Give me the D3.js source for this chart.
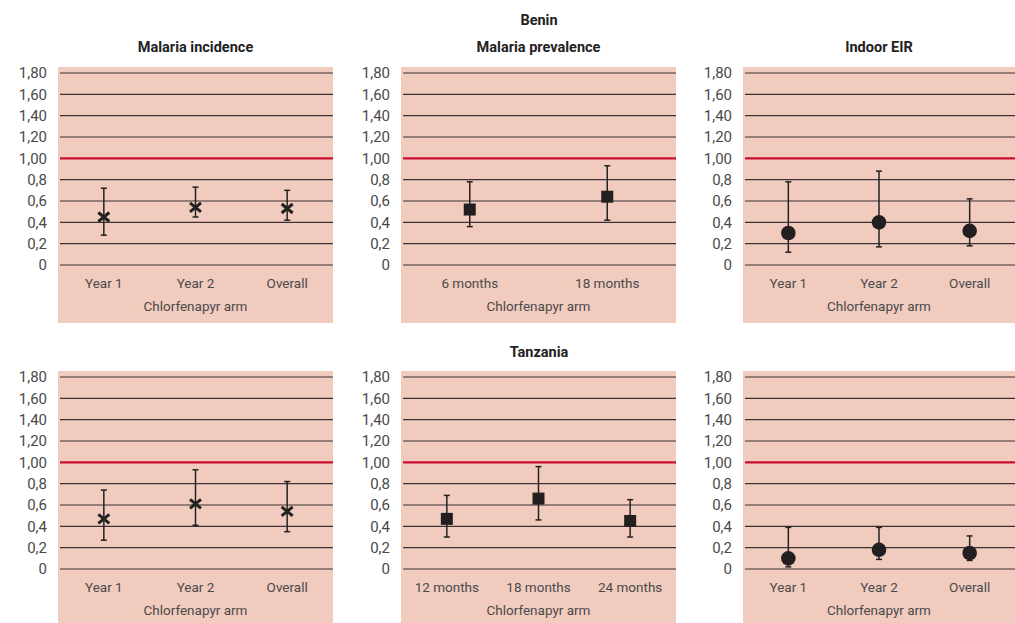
<!DOCTYPE html>
<html>
<head>
<meta charset="utf-8">
<script src="https://cdn.jsdelivr.net/npm/d3@7"></script>
<style>
  body { margin: 0; background: #fff; }
  svg { display: block; }
  text { font-family: "Roboto", "Liberation Sans", sans-serif; }
</style>
</head>
<body>
<svg id="chart" width="1015" height="623"></svg>
<script>
// tick values and their printed labels (the source mixes 1 and 2 decimals)
const tickValues = [0, 0.2, 0.4, 0.6, 0.8, 1.0, 1.2, 1.4, 1.6, 1.8]
const tickLabels = ['0', '0,2', '0,4', '0,6', '0,8', '1,00', '1,20', '1,40', '1,60', '1,80']

const yearCats = ['Year 1', 'Year 2', 'Overall']
const beninPrevCats = ['6 months', '18 months']
const tanzPrevCats = ['12 months', '18 months', '24 months']

// [estimate, lower, upper]
const beninIncidence = [[0.45, 0.28, 0.72], [0.54, 0.45, 0.73], [0.53, 0.42, 0.70]]
const beninPrevalence = [[0.52, 0.36, 0.78], [0.64, 0.42, 0.93]]
const beninEIR = [[0.30, 0.12, 0.78], [0.40, 0.17, 0.88], [0.32, 0.18, 0.62]]
const tanzIncidence = [[0.47, 0.27, 0.74], [0.61, 0.41, 0.93], [0.54, 0.35, 0.82]]
const tanzPrevalence = [[0.47, 0.30, 0.69], [0.66, 0.46, 0.96], [0.45, 0.30, 0.65]]
const tanzEIR = [[0.10, 0.02, 0.39], [0.18, 0.09, 0.39], [0.15, 0.08, 0.31]]

const svg = d3.select('#chart')

const colX = [58, 401, 743]
const colW = [275, 275, 272]
const rowY = [67, 371]

const panels = [
  { col: 0, row: 0, title: 'Malaria incidence', cats: yearCats, data: beninIncidence, marker: 'cross' },
  { col: 1, row: 0, title: 'Malaria prevalence', cats: beninPrevCats, data: beninPrevalence, marker: 'square' },
  { col: 2, row: 0, title: 'Indoor EIR', cats: yearCats, data: beninEIR, marker: 'circle' },
  { col: 0, row: 1, title: null, cats: yearCats, data: tanzIncidence, marker: 'cross' },
  { col: 1, row: 1, title: null, cats: tanzPrevCats, data: tanzPrevalence, marker: 'square' },
  { col: 2, row: 1, title: null, cats: yearCats, data: tanzEIR, marker: 'circle' }
]

// country headings
svg.append('text').attr('x', 539).attr('y', 25).attr('text-anchor', 'middle')
  .attr('font-size', 14.5).attr('font-weight', 'bold').attr('fill', '#222').text('Benin')
svg.append('text').attr('x', 539).attr('y', 357).attr('text-anchor', 'middle')
  .attr('font-size', 14.5).attr('font-weight', 'bold').attr('fill', '#222').text('Tanzania')

panels.forEach((p) => {
  const x0 = colX[p.col]
  const w = colW[p.col]
  const top = rowY[p.row]
  const g = svg.append('g').attr('transform', `translate(${x0},${top})`)

  const y = d3.scaleLinear().domain([0, 1.8]).range([198, 6])
  const x = d3.scalePoint().domain(p.cats).range([0, w]).padding(0.5)

  g.append('rect').attr('x', 0).attr('y', 0).attr('width', w).attr('height', 256)
    .attr('fill', '#f2cbbf')

  if (p.title) {
    g.append('text').attr('x', w / 2).attr('y', -15).attr('text-anchor', 'middle')
      .attr('font-size', 14.5).attr('font-weight', 'bold').attr('fill', '#222').text(p.title)
  }

  // grid lines
  g.selectAll('line.grid')
    .data(tickValues)
    .join('line')
    .attr('class', 'grid')
    .attr('x1', 2).attr('x2', w)
    .attr('y1', (d) => y(d)).attr('y2', (d) => y(d))
    .attr('stroke', (d) => (d === 1 ? '#c8102e' : '#3a3332'))
    .attr('stroke-width', (d) => (d === 1 ? 2.4 : 1.2))

  // y tick labels
  g.selectAll('text.tick')
    .data(tickValues)
    .join('text')
    .attr('class', 'tick')
    .attr('x', -11).attr('y', (d) => y(d)).attr('dy', '0.36em')
    .attr('text-anchor', 'end').attr('font-size', 15).attr('fill', '#4a4a4a')
    .text((d, i) => tickLabels[i])

  // category labels
  g.selectAll('text.cat')
    .data(p.cats)
    .join('text')
    .attr('class', 'cat')
    .attr('x', (d) => x(d)).attr('y', 221)
    .attr('text-anchor', 'middle').attr('font-size', 13.5).attr('fill', '#4a4a4a')
    .text((d) => d)

  g.append('text').attr('x', w / 2).attr('y', 244).attr('text-anchor', 'middle')
    .attr('font-size', 13.5).attr('fill', '#4a4a4a').text('Chlorfenapyr arm')

  // error bars
  const pts = g.selectAll('g.pt')
    .data(p.data.map((d, i) => ({ cat: p.cats[i], est: d[0], lo: d[1], hi: d[2] })))
    .join('g')
    .attr('class', 'pt')
    .attr('transform', (d) => `translate(${x(d.cat)},0)`)

  pts.append('line').attr('x1', 0).attr('x2', 0)
    .attr('y1', (d) => y(d.lo)).attr('y2', (d) => y(d.hi))
    .attr('stroke', '#222').attr('stroke-width', 1.5)
  pts.append('line').attr('x1', -3).attr('x2', 3)
    .attr('y1', (d) => y(d.lo)).attr('y2', (d) => y(d.lo))
    .attr('stroke', '#222').attr('stroke-width', 1.5)
  pts.append('line').attr('x1', -3).attr('x2', 3)
    .attr('y1', (d) => y(d.hi)).attr('y2', (d) => y(d.hi))
    .attr('stroke', '#222').attr('stroke-width', 1.5)

  if (p.marker === 'cross') {
    pts.append('path')
      .attr('d', (d) => {
        const cy = y(d.est)
        return `M-5.5,${cy - 4.5}L5.5,${cy + 4.5}M-5.5,${cy + 4.5}L5.5,${cy - 4.5}`
      })
      .attr('stroke', '#222').attr('stroke-width', 3)
  } else if (p.marker === 'square') {
    pts.append('rect').attr('x', -6).attr('y', (d) => y(d.est) - 6)
      .attr('width', 12).attr('height', 12).attr('fill', '#231f20')
  } else {
    pts.append('circle').attr('cx', 0).attr('cy', (d) => y(d.est)).attr('r', 7.3)
      .attr('fill', '#231f20')
  }
})
</script>
</body>
</html>
